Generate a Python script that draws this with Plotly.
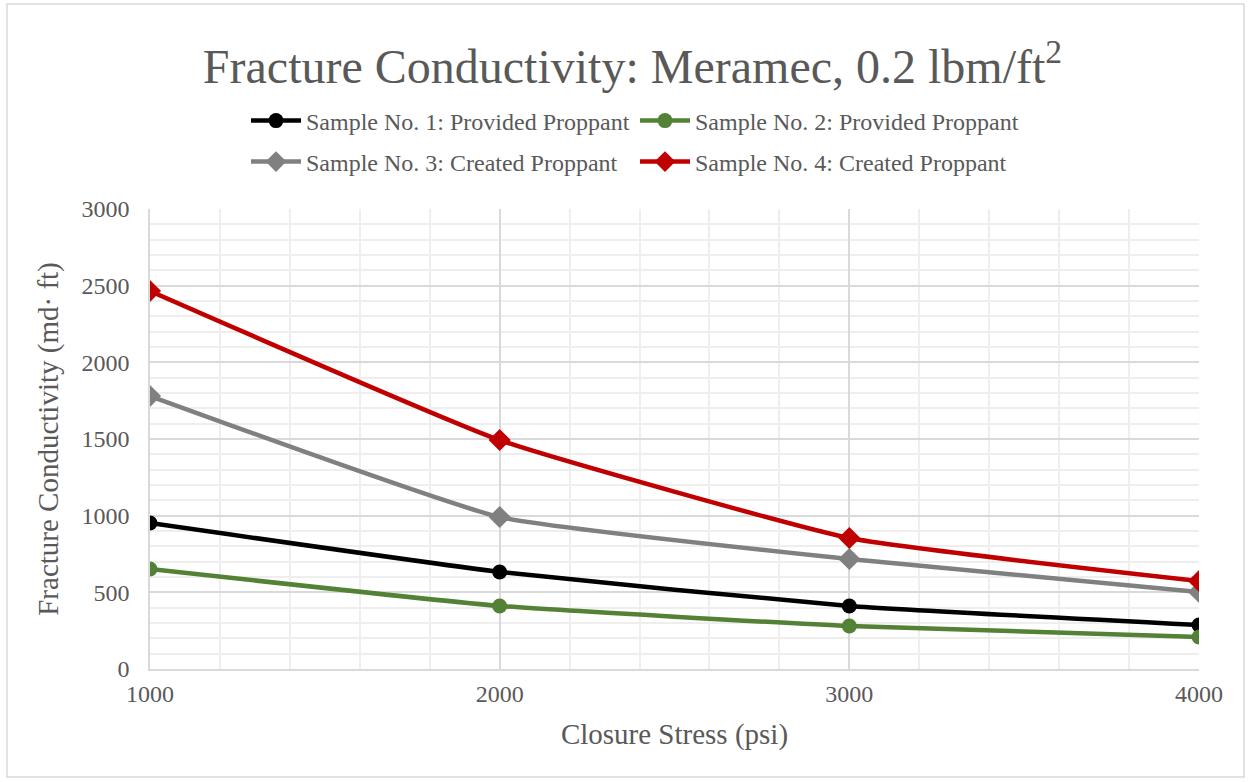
import plotly.graph_objects as go

stress = [1000, 2000, 3000, 4000]
sample1 = [952, 633, 411, 287]
sample2 = [652, 411, 280, 209]
sample3 = [1780, 991, 717, 502]
sample4 = [2465, 1493, 854, 574]
names = ["Sample No. 1: Provided Proppant", "Sample No. 2: Provided Proppant",
         "Sample No. 3: Created Proppant", "Sample No. 4: Created Proppant"]
colors = ["#000000", "#538135", "#808080", "#C00000"]
symbols = ["circle", "circle", "diamond", "diamond"]
legends = ["legend", "legend", "legend2", "legend2"]

FONT = "Liberation Serif, Times New Roman, serif"
GRAY = "#595959"

fig = go.Figure()
for vals, nm, c, s, lg in zip([sample1, sample2, sample3, sample4], names, colors, symbols, legends):
    fig.add_trace(go.Scatter(
        x=stress, y=vals, name=nm, mode="lines+markers",
        line=dict(color=c, width=4.5, shape="spline", smoothing=0.4),
        marker=dict(symbol=s, size=15 if s == "circle" else 17, color=c),
        legend=lg,
    ))

W, H = 1250, 782
L, R, T, B = 150, 51, 209, 113
pw, ph = W - L - R, H - T - B

def px(x):
    return (x - L) / pw

def py(y):
    return (H - B - y) / ph

leg_common = dict(orientation="h", xanchor="left", yanchor="middle",
                  entrywidth=324, entrywidthmode="pixels", font=dict(size=24, color=GRAY),
                  bgcolor="rgba(0,0,0,0)", itemwidth=50, tracegroupgap=0)

fig.update_layout(
    width=W, height=H,
    margin=dict(l=L, r=R, t=T, b=B),
    paper_bgcolor="white", plot_bgcolor="white",
    font=dict(family=FONT, color=GRAY, size=24),
    title=dict(text="Fracture Conductivity: Meramec, 0.2 lbm/ft<sup>2</sup>",
               x=0.506, xanchor="center", y=1 - 66 / H, yanchor="middle",
               font=dict(size=48, color=GRAY, family=FONT)),
    legend=dict(x=px(246), y=py(121), **leg_common),
    legend2=dict(x=px(246), y=py(162), **leg_common),
    xaxis=dict(range=[1000, 4000], tickvals=stress, ticks="", showline=True,
               linecolor="#d9d9d9", linewidth=1.5, gridcolor="#d9d9d9", gridwidth=1.5,
               minor=dict(dtick=200, showgrid=True, gridcolor="#eeeeee", gridwidth=1.5),
               zeroline=False, tickfont=dict(size=24, color=GRAY), ticklabelstandoff=2,
               title=dict(text="Closure Stress (psi)", font=dict(size=29, color=GRAY), standoff=18)),
    yaxis=dict(range=[0, 3000], dtick=500, ticks="", showline=True,
               linecolor="#d9d9d9", linewidth=1.5, gridcolor="#d9d9d9", gridwidth=1.5,
               minor=dict(dtick=100, showgrid=True, gridcolor="#eeeeee", gridwidth=1.5),
               zeroline=False, tickfont=dict(size=24, color=GRAY), ticklabelstandoff=14,
               title=dict(text="Fracture Conductivity (md\u00b7 ft)", font=dict(size=29, color=GRAY), standoff=14)),
    showlegend=True,
)

fig.add_shape(type="rect", xref="paper", yref="paper",
              x0=px(7), x1=px(1244), y0=py(777), y1=py(4),
              line=dict(color="#d9d9d9", width=1.5), fillcolor="rgba(0,0,0,0)", layer="below")

fig.write_html("out.html")
